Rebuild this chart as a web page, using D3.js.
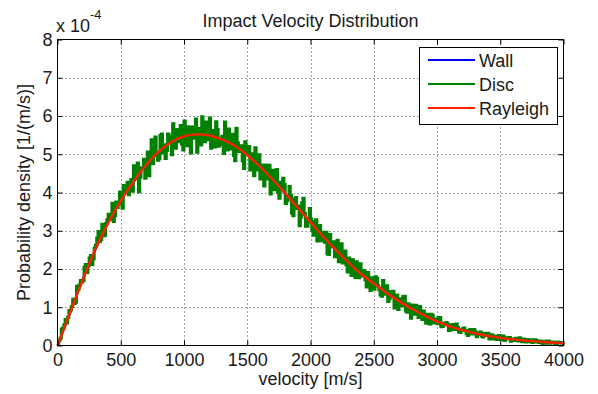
<!DOCTYPE html>
<html>
<head>
<meta charset="utf-8">
<script src="https://cdn.jsdelivr.net/npm/d3@7.9.0/dist/d3.min.js"></script>
<style>
  body { margin: 0; background: #fff; }
  svg { display: block; font-family: "Liberation Sans", Arial, sans-serif; }
  .tick text { font-size: 18px; fill: #1a1a1a; }
</style>
</head>
<body>
<svg width="598" height="394"></svg>
<script>
// values, density in units of 1e-4 per (m/s)
const xTicks = [0, 500, 1000, 1500, 2000, 2500, 3000, 3500, 4000];
const yTicks = [0, 1, 2, 3, 4, 5, 6, 7, 8];
const seriesNames = ['Wall', 'Disc', 'Rayleigh'];
const seriesColors = ['#0000ff', '#008000', '#ff2000'];

// histogram bins, 10 m/s wide
const discDensity = [
  0.05,0.13, 0.19,0.43, 0.45,0.54, 0.68,0.59, 0.74,0.91, 0.93,1.02, 1.21,1.10, 1.13,1.55, 1.47,1.58, 1.70,1.66,
  1.70,2.05, 2.12,1.91, 2.08,2.29, 2.35,2.12, 2.27,2.55, 2.62,2.81, 2.98,2.72, 2.77,3.17, 2.87,2.88, 3.19,3.29,
  3.43,3.34, 3.30,3.72, 3.24,3.40, 3.75,3.61, 3.75,4.01, 3.70,3.59, 4.18,4.11, 4.03,4.27, 3.94,4.14, 4.34,4.03,
  4.70,4.53, 4.37,4.77, 4.02,4.40, 4.65,4.64, 4.87,4.37, 4.65,5.06, 4.44,4.97, 5.38,4.75, 5.30,5.45, 4.97,4.84,
  4.88,5.49, 5.53,5.04, 5.25,4.89, 5.10,5.53, 5.48,5.38, 4.99,5.80, 5.50,5.16, 5.65,5.33, 5.41,5.75, 5.26,5.11,
  5.87,5.62, 5.22,5.72, 5.58,5.03, 5.71,5.60, 5.42,5.92, 5.05,5.35, 5.67,5.24, 5.98,5.71, 5.33,5.84, 5.52,5.38,
  5.95,5.16, 5.39,5.62, 5.19,5.85, 5.65,5.21, 5.25,5.42, 5.47,5.02, 5.84,5.58, 5.11,5.66, 5.22,5.14, 5.52,4.97,
  4.83,5.68, 5.30,5.07, 5.10,5.22, 4.83,4.63, 5.33,5.06, 5.03,5.20, 4.59,4.69, 5.01,4.44, 5.17,4.96, 4.59,4.99,
  4.35,4.72, 4.70,4.17, 4.72,4.65, 4.35,4.71, 3.96,4.26, 4.58,4.07, 4.25,4.60, 4.00,3.85, 4.27,4.11, 4.37,4.21,
  3.71,3.78, 3.82,4.16, 3.93,3.46, 3.39,3.83, 3.87,3.58, 3.65,3.13, 3.35,3.73, 3.85,3.45, 3.12,3.12, 3.31,3.58,
  3.31,3.02, 2.88,3.24, 3.29,2.73, 2.94,3.14, 2.74,2.96, 2.92,2.70, 2.96,2.40, 2.38,2.90, 2.67,2.58, 2.71,2.32,
  2.39,2.75, 2.19,2.43, 2.66,2.16, 2.27,2.47, 2.11,1.92, 2.29,2.24, 1.83,2.24, 2.13,1.78, 2.19,1.97, 1.77,2.14,
  1.82,1.96, 1.95,1.72, 1.53,1.91, 1.76,1.44, 1.77,1.52, 1.47,1.80, 1.76,1.56, 1.46,1.32, 1.29,1.70, 1.49,1.34,
  1.56,1.15, 1.22,1.41, 1.30,1.42, 0.98,1.12, 1.32,0.94, 1.22,1.19, 1.04,1.28, 1.29,0.90, 0.87,1.09, 1.00,0.71,
  1.06,0.87, 0.82,1.05, 0.91,0.73, 1.02,0.85, 0.68,0.90, 0.76,0.58, 0.82,0.78, 0.56,0.82, 0.79,0.59, 0.69,0.60,
  0.57,0.73, 0.73,0.49, 0.50,0.58, 0.54,0.60, 0.56,0.39, 0.40,0.53, 0.55,0.42, 0.42,0.56, 0.47,0.35, 0.34,0.41,
  0.44,0.46, 0.39,0.31, 0.26,0.39, 0.42,0.30, 0.30,0.42, 0.35,0.23, 0.29,0.33, 0.35,0.24, 0.22,0.32, 0.28,0.27,
  0.32,0.17, 0.21,0.28, 0.17,0.23, 0.25,0.16, 0.21,0.26, 0.16,0.18, 0.25,0.13, 0.17,0.20, 0.19,0.21, 0.11,0.13,
  0.17,0.13, 0.19,0.17, 0.12,0.20, 0.14,0.10, 0.17,0.14, 0.09,0.16, 0.14,0.10, 0.15,0.08, 0.09,0.15, 0.14,0.10,
  0.08,0.12, 0.10,0.05, 0.11,0.11, 0.06,0.12, 0.11,0.06, 0.07,0.09, 0.08,0.04, 0.05,0.09, 0.08,0.07, 0.06,0.08
];

// every 100 m/s
const wallDensity = [
  0, 0.84, 1.75, 2.50, 3.22, 3.80, 4.25, 4.75, 5.05, 5.35, 5.45, 5.55, 5.47, 5.41, 5.20, 5.00, 4.66, 4.36, 3.96, 3.62,
  3.20, 2.87, 2.48, 2.19, 1.85, 1.63, 1.37, 1.17, 0.95, 0.80, 0.62, 0.51, 0.39, 0.33, 0.24, 0.21, 0.15, 0.13, 0.09, 0.08, 0.07
];
const rayleighDensity = [
  0, 0.86, 1.72, 2.52, 3.20, 3.78, 4.28, 4.72, 5.07, 5.32, 5.47, 5.52, 5.49, 5.39, 5.22, 4.98, 4.68, 4.34, 3.98, 3.60,
  3.22, 2.85, 2.50, 2.17, 1.87, 1.62, 1.38, 1.16, 0.96, 0.79, 0.63, 0.50, 0.40, 0.32, 0.25, 0.20, 0.16, 0.13, 0.10, 0.08, 0.06
];

const binCenters = d3.range(5, 4000, 10);
const curveVelocity = d3.range(0, 4001, 100);

const svg = d3.select('svg');
const plotLeft = 57.5, plotRight = 563.5, plotTop = 39.5, plotBottom = 345.5;

const x = d3.scaleLinear().domain([0, 4000]).range([plotLeft, plotRight]);
const y = d3.scaleLinear().domain([0, 8]).range([plotBottom, plotTop]);

// dotted grid
const grid = svg.append('g').attr('stroke', '#444').attr('stroke-width', 1).attr('stroke-dasharray', '1,3');
xTicks.slice(1, -1).forEach(t => {
  grid.append('line').attr('x1', Math.round(x(t)) + 0.5).attr('x2', Math.round(x(t)) + 0.5)
    .attr('y1', plotTop).attr('y2', plotBottom);
});
yTicks.slice(1, -1).forEach(t => {
  grid.append('line').attr('y1', Math.round(y(t)) + 0.5).attr('y2', Math.round(y(t)) + 0.5)
    .attr('x1', plotLeft).attr('x2', plotRight);
});

// data lines
const binLine = d3.line().x((d, i) => x(binCenters[i])).y(d => y(d)).curve(d3.curveStep);
const smoothLine = d3.line().x((d, i) => x(curveVelocity[i])).y(d => y(d)).curve(d3.curveMonotoneX);

svg.append('path').attr('d', smoothLine(wallDensity))
  .attr('fill', 'none').attr('stroke', seriesColors[0]).attr('stroke-width', 2);
svg.append('path').attr('d', binLine(discDensity))
  .attr('fill', 'none').attr('stroke', seriesColors[1]).attr('stroke-width', 3);
svg.append('path').attr('d', smoothLine(rayleighDensity))
  .attr('fill', 'none').attr('stroke', seriesColors[2]).attr('stroke-width', 2.4);

// axes, ticks pointing inward on all four sides
const fmt = d3.format('d');
svg.append('g').attr('transform', `translate(0,${plotBottom})`)
  .call(d3.axisBottom(x).tickValues(xTicks).tickFormat(fmt).tickSize(-5).tickPadding(8));
svg.append('g').attr('transform', `translate(${plotLeft},0)`)
  .call(d3.axisLeft(y).tickValues(yTicks).tickFormat(fmt).tickSize(-5).tickPadding(5));
svg.append('g').attr('transform', `translate(0,${plotTop})`)
  .call(d3.axisTop(x).tickValues(xTicks).tickFormat('').tickSize(-5));
svg.append('g').attr('transform', `translate(${plotRight},0)`)
  .call(d3.axisRight(y).tickValues(yTicks).tickFormat('').tickSize(-5));
svg.selectAll('.domain').remove();
svg.selectAll('.tick line').attr('stroke', '#000');

svg.append('rect').attr('x', plotLeft).attr('y', plotTop)
  .attr('width', plotRight - plotLeft).attr('height', plotBottom - plotTop)
  .attr('fill', 'none').attr('stroke', '#000').attr('stroke-width', 1);

// exponent label
const expo = svg.append('text').attr('x', 56).attr('y', 32)
  .attr('font-size', 18).attr('fill', '#1a1a1a').text('x 10');
expo.append('tspan').attr('dy', -13).attr('font-size', 13).text('-4');

// titles
svg.append('text').attr('x', (plotLeft + plotRight) / 2).attr('y', 27)
  .attr('text-anchor', 'middle').attr('font-size', 18).attr('fill', '#1a1a1a')
  .text('Impact Velocity Distribution');
svg.append('text').attr('x', (plotLeft + plotRight) / 2).attr('y', 385)
  .attr('text-anchor', 'middle').attr('font-size', 18).attr('fill', '#1a1a1a')
  .text('velocity [m/s]');
svg.append('text').attr('transform', `translate(30,${(plotTop + plotBottom) / 2}) rotate(-90)`)
  .attr('text-anchor', 'middle').attr('font-size', 18).attr('fill', '#1a1a1a')
  .text('Probability density [1/(m/s)]');

// legend
const legend = svg.append('g');
legend.append('rect').attr('x', 419.5).attr('y', 47.5).attr('width', 138).attr('height', 77)
  .attr('fill', '#fff').attr('stroke', '#000');
seriesNames.forEach((name, i) => {
  const ly = 60 + i * 24;
  legend.append('line').attr('x1', 428).attr('x2', 475).attr('y1', ly).attr('y2', ly)
    .attr('stroke', seriesColors[i]).attr('stroke-width', 2);
  legend.append('text').attr('x', 479).attr('y', ly + 7)
    .attr('font-size', 18).attr('fill', '#1a1a1a').text(name);
});
</script>
</body>
</html>
